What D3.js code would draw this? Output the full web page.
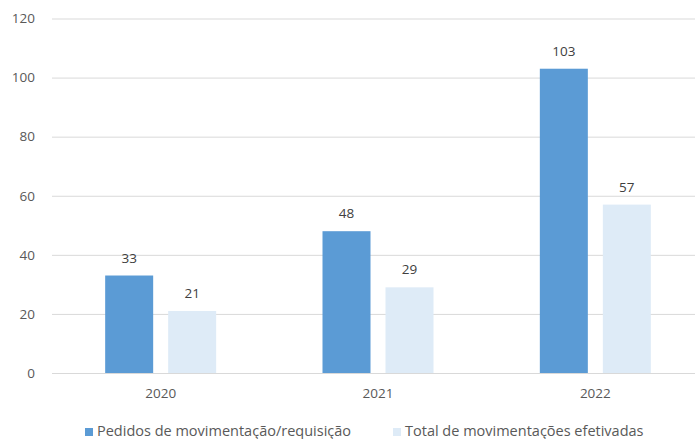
<!DOCTYPE html>
<html>
<head>
<meta charset="utf-8">
<script src="https://cdn.jsdelivr.net/npm/d3@7"></script>
<style>
  body { margin: 0; background: #fff; }
  svg text { font-family: "Open Sans", "Noto Sans", sans-serif; fill: #595959; }
</style>
</head>
<body>
<svg id="chart" width="695" height="439"></svg>
<script>
// anos (categorias)
var anos = ['2020', '2021', '2022'];
// series
var pedidos = [33, 48, 103];
var efetivadas = [21, 29, 57];
var series_nomes = ['Pedidos de movimentação/requisição', 'Total de movimentações efetivadas'];
var y_ticks = [0, 20, 40, 60, 80, 100, 120];

var cores = ['#5B9BD5', '#DEEBF7'];
var svg = d3.select('#chart');

var x0 = d3.scaleBand().domain(anos).range([52, 704]).padding(0);
var grupo = 111;
var x1 = d3.scaleBand().domain([0, 1])
  .range([(x0.bandwidth() - grupo) / 2, (x0.bandwidth() + grupo) / 2])
  .paddingInner(0.238);
var y = d3.scaleLinear().domain([0, 120]).range([373, 18.5]);

// linhas de grade
var y_axis = d3.axisLeft(y).tickValues(y_ticks).tickSize(-(695 - 52)).tickPadding(17);
var g_y = svg.append('g').attr('transform', 'translate(52,0)').call(y_axis);
g_y.select('.domain').remove();
g_y.selectAll('.tick line').attr('stroke', '#D9D9D9').attr('stroke-width', 1);
g_y.selectAll('.tick text').attr('font-size', 13.5).style('fill', '#595959');

// eixo x
var x_axis = d3.axisBottom(x0).tickSize(0).tickPadding(15);
var g_x = svg.append('g').attr('transform', 'translate(0,373)').call(x_axis);
g_x.select('.domain').remove();
g_x.selectAll('.tick text').attr('font-size', 13.5).style('fill', '#595959');

var dados = anos.map(function(a, i) {
  return { ano: a, valores: [pedidos[i], efetivadas[i]] };
});

var grupos = svg.append('g').selectAll('g').data(dados).enter().append('g')
  .attr('transform', function(d) { return 'translate(' + x0(d.ano) + ',0)'; });

grupos.selectAll('rect').data(function(d) { return d.valores; }).enter().append('rect')
  .attr('x', function(d, i) { return x1(i); })
  .attr('y', function(d) { return y(d); })
  .attr('width', x1.bandwidth())
  .attr('height', function(d) { return y(0) - y(d); })
  .attr('fill', function(d, i) { return cores[i]; });

grupos.selectAll('text.valor').data(function(d) { return d.valores; }).enter().append('text')
  .attr('class', 'valor')
  .attr('x', function(d, i) { return x1(i) + x1.bandwidth() / 2; })
  .attr('y', function(d) { return y(d) - 13; })
  .attr('text-anchor', 'middle')
  .attr('font-size', 13.5)
  .style('fill', '#404040')
  .text(function(d) { return d; });

// legenda
var leg_x = [85, 393];
var legenda = svg.append('g').selectAll('g').data(series_nomes).enter().append('g')
  .attr('transform', function(d, i) { return 'translate(' + leg_x[i] + ',0)'; });
legenda.append('rect').attr('x', 0).attr('y', 428).attr('width', 8).attr('height', 8)
  .attr('fill', function(d, i) { return cores[i]; });
legenda.append('text').attr('x', 12).attr('y', 436).attr('font-size', 14.5)
  .style('fill', '#595959')
  .text(function(d) { return d; });
</script>
</body>
</html>
